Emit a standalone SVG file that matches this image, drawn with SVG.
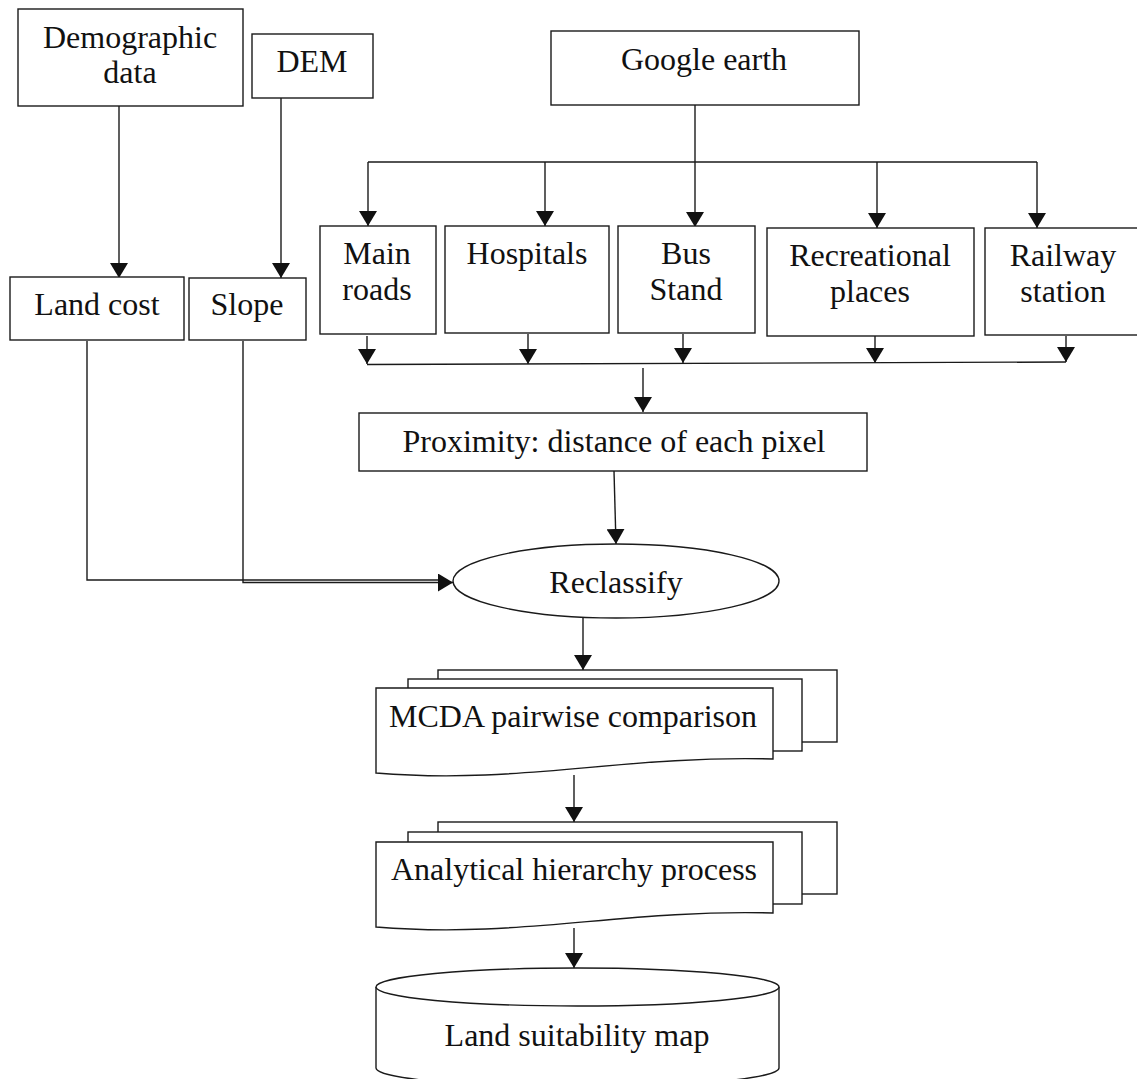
<svg xmlns="http://www.w3.org/2000/svg" width="1137" height="1079" viewBox="0 0 1137 1079">
  <style>
    .box { fill: #ffffff; stroke: #1a1a1a; stroke-width: 1.4; }
    .wire { fill: none; stroke: #1a1a1a; stroke-width: 1.4; }
    .arrow { fill: none; stroke: #1a1a1a; stroke-width: 1.4; marker-end: url(#head); }
    text { font-family: "Liberation Serif", "Times New Roman", serif; font-size: 32px; fill: #111111; text-anchor: middle; }
  </style>
  <defs>
    <marker id="head" markerUnits="userSpaceOnUse" markerWidth="18" markerHeight="18" refX="15" refY="9" orient="auto">
      <path d="M0,0 L15,9 L0,18 Z" fill="#111111"/>
    </marker>
  </defs>
  <rect width="1137" height="1079" fill="#ffffff"/>

  <!-- connectors -->
  <g id="connectors">
    <path class="arrow" d="M119,106 V278"/>
    <path class="arrow" d="M281,98 V278"/>
    <path class="wire" d="M695,105 V162"/>
    <path class="wire" d="M368,162 H1037"/>
    <path class="arrow" d="M368,162 V226"/>
    <path class="arrow" d="M545,162 V226"/>
    <path class="arrow" d="M695,162 V227"/>
    <path class="arrow" d="M877,162 V228"/>
    <path class="arrow" d="M1037,162 V228"/>
    <path class="arrow" d="M367,336 V364"/>
    <path class="arrow" d="M528,334 V364"/>
    <path class="arrow" d="M683,334 V363"/>
    <path class="arrow" d="M875,336 V363"/>
    <path class="arrow" d="M1066,336 V362"/>
    <path class="wire" d="M367,364.5 L1066,362"/>
    <path class="arrow" d="M643,368 V412"/>
    <path class="arrow" d="M614,471 L616,544"/>
    <path class="wire" d="M87,341 V580 H440"/>
    <path class="arrow" d="M243,341 V582.5 H453"/>
    <path class="arrow" d="M583,618 V670"/>
    <path class="arrow" d="M574,775 V822"/>
    <path class="arrow" d="M574,928 V968"/>
  </g>

  <!-- data sources -->
  <g id="demographic">
    <rect class="box" x="18" y="9" width="225" height="97"/>
    <text x="130" y="48">Demographic</text>
    <text x="130" y="83">data</text>
  </g>
  <g id="dem">
    <rect class="box" x="252" y="34" width="121" height="64"/>
    <text x="312" y="72">DEM</text>
  </g>
  <g id="google-earth">
    <rect class="box" x="551" y="31" width="308" height="74"/>
    <text x="704" y="70">Google earth</text>
  </g>

  <!-- derived layers -->
  <g id="land-cost">
    <rect class="box" x="10" y="277" width="174" height="63"/>
    <text x="97" y="315">Land cost</text>
  </g>
  <g id="slope">
    <rect class="box" x="189" y="278" width="117" height="62"/>
    <text x="247" y="315">Slope</text>
  </g>
  <g id="main-roads">
    <rect class="box" x="320" y="226" width="116" height="108"/>
    <text x="377" y="264">Main</text>
    <text x="377" y="300">roads</text>
  </g>
  <g id="hospitals">
    <rect class="box" x="445" y="226" width="164" height="107"/>
    <text x="527" y="264">Hospitals</text>
  </g>
  <g id="bus-stand">
    <rect class="box" x="618" y="226" width="137" height="107"/>
    <text x="686" y="264">Bus</text>
    <text x="686" y="300">Stand</text>
  </g>
  <g id="recreational">
    <rect class="box" x="767" y="228" width="207" height="108"/>
    <text x="870" y="266">Recreational</text>
    <text x="870" y="302">places</text>
  </g>
  <g id="railway">
    <rect class="box" x="985" y="228" width="160" height="107"/>
    <text x="1063" y="266">Railway</text>
    <text x="1063" y="302">station</text>
  </g>

  <!-- processing -->
  <g id="proximity">
    <rect class="box" x="359" y="413" width="508" height="58"/>
    <text x="614" y="452">Proximity: distance of each pixel</text>
  </g>
  <g id="reclassify">
    <ellipse class="box" cx="616" cy="581" rx="163" ry="37"/>
    <text x="616" y="593">Reclassify</text>
  </g>
  <g id="mcda">
    <rect class="box" x="438" y="670" width="399" height="72"/>
    <rect class="box" x="408" y="679" width="394" height="72"/>
    <path class="box" d="M376,688 H773 V759 C620,755 520,785 376,773 Z"/>
    <text x="573" y="727">MCDA pairwise comparison</text>
  </g>
  <g id="ahp">
    <rect class="box" x="438" y="822" width="399" height="72"/>
    <rect class="box" x="408" y="832" width="394" height="72"/>
    <path class="box" d="M376,842 H773 V913 C620,909 520,939 376,927 Z"/>
    <text x="574" y="880">Analytical hierarchy process</text>
  </g>
  <g id="suitability-map">
    <path class="box" d="M376,987 V1068 A201.5,19 0 0 0 779,1068 V987"/>
    <ellipse class="box" cx="577.5" cy="987" rx="201.5" ry="19"/>
    <text x="577" y="1046">Land suitability map</text>
  </g>
</svg>
